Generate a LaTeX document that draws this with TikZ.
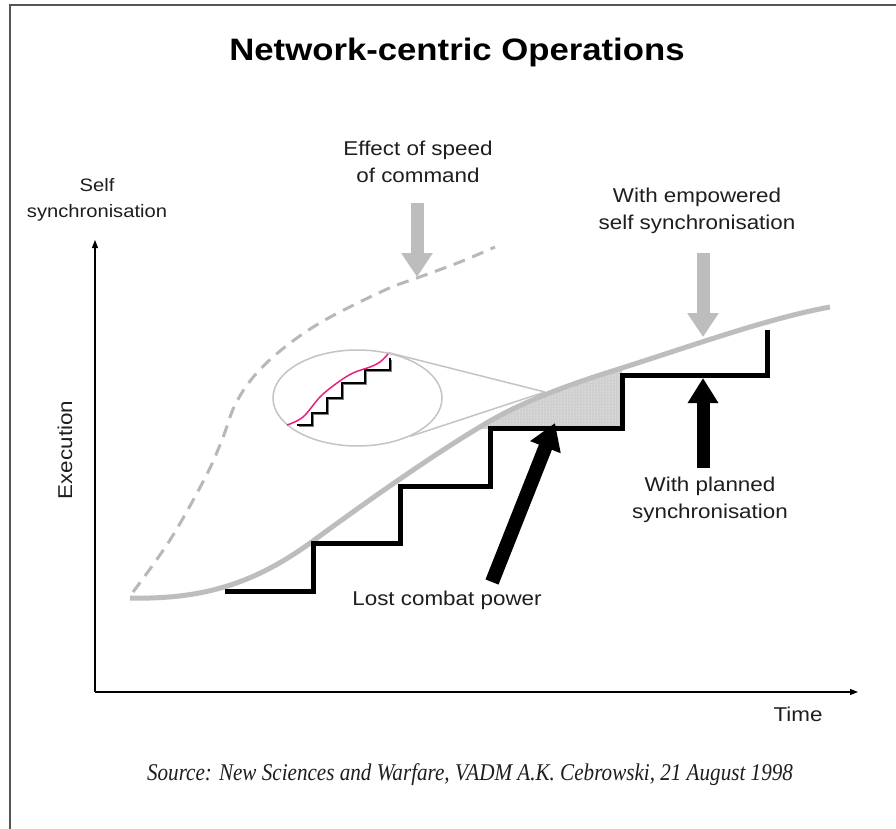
\documentclass[tikz,border=0pt]{standalone}
\usepackage{fontspec}
\setmainfont[FakeStretch=1.12]{Liberation Sans}
\newfontfamily\srcfont[FakeStretch=0.88]{Liberation Serif}
\usetikzlibrary{arrows.meta,shapes.geometric,patterns}
\definecolor{curvegray}{HTML}{BDBDBD}
\definecolor{dashgray}{HTML}{B8B8B8}
\definecolor{lensgray}{HTML}{C4C4C4}
\definecolor{shadegray}{HTML}{CFCFCF}
\definecolor{pinkc}{HTML}{E8207E}
\definecolor{framec}{HTML}{555555}
\definecolor{txt}{HTML}{1E1E1E}
\newcommand\grcurvepath{(130,598) .. controls (212,600) and (262,578) .. (313,541) .. controls (370,499) and (440,450) .. (490,421) .. controls (530,398) and (580,381) .. (622,368) .. controls (700,343) and (770,318) .. (830,307)}
\tikzset{
  lbl/.style={text=txt, align=center, inner sep=0pt, font=\fontsize{20}{27}\selectfont},
  axlbl/.style={text=txt, align=center, inner sep=0pt, font=\fontsize{18}{26}\selectfont},
  axisline/.style={draw=black, line width=1.2pt, -{Triangle[length=8pt,width=6pt]}},
  grayarrow/.style={draw=curvegray, line width=13pt, -{Triangle[length=24pt,width=30pt]}},
  blackarrow/.style={draw=black, line width=13pt, -{Triangle[length=25pt,width=29pt]}},
  stairline/.style={draw=black, line width=5pt, line join=miter},
  curveline/.style={draw=curvegray, line width=5pt},
}
\begin{document}
\begin{tikzpicture}[x=1pt,y=-1pt]
\useasboundingbox (0,0) rectangle (896,829);
\fill[white] (0,0) rectangle (896,829);
% frame
\draw[framec, line width=1.2pt] (10,829) -- (10,5) -- (896,5);
% title
\node[text=black, inner sep=0pt, font=\bfseries\fontsize{31}{36}\selectfont] (title) at (457,52) {Network-centric Operations};
% axes
\coordinate (origin) at (95,692);
\coordinate (ytip) at (95,240);
\coordinate (xtip) at (858,692);
\draw[axisline] (origin) -- (ytip);
\draw[axisline] (origin) -- (xtip);
\node[axlbl] (selfl) at (97,200) {Self\\synchronisation};
\node[axlbl, font=\fontsize{20}{26}\selectfont, rotate=90] (execl) at (65,450) {Execution};
\node[axlbl, font=\fontsize{20}{26}\selectfont] (timel) at (798,714) {Time};
% shaded lost region
\begin{scope}
  \clip (470,428) rectangle (622,300);
  \fill[shadegray] \grcurvepath -- (830,700) -- (130,700) -- cycle;
  \fill[pattern=dots, pattern color=white] \grcurvepath -- (830,700) -- (130,700) -- cycle;
\end{scope}
% dashed curve
\draw[dashgray, line width=3pt, dash pattern=on 12pt off 8pt] plot[smooth, tension=0.6] coordinates {(133,592) (170,540) (205,478) (222,440) (235,405) (255,375) (285,347) (325,320) (385,290) (417,278) (460,262) (495,247)};
% magnifier
\node[ellipse, draw=lensgray, line width=1.5pt, minimum width=169pt, minimum height=96pt, inner sep=0pt] (mag) at (357.5,398) {};
\coordinate (focus) at (545,392);
\draw[lensgray, line width=1.5pt] (mag.56) -- (focus);
\draw[lensgray, line width=1.5pt] (mag.-36) -- (focus);
% mini stairs inside lens
\draw[gray, line width=1.5pt, shift={(1.5,1.5)}] (297,425) -- (312,425) -- (312,413) -- (327,413) -- (327,398) -- (342,398) -- (342,383) -- (365,383) -- (365,370) -- (390,370) -- (390,358);
\draw[black, line width=1.3pt] (297,425) -- (312,425) -- (312,413) -- (327,413) -- (327,398) -- (342,398) -- (342,383) -- (365,383) -- (365,370) -- (390,370) -- (390,358);
\draw[pinkc, line width=1.5pt] plot[smooth, tension=0.6] coordinates {(287,425) (303,417) (320,397) (337,383) (353,373) (370,367) (380,362) (388,354)};
% main gray curve
\draw[curveline] \grcurvepath;
% staircase
\draw[stairline] (225,591) -- (313,591) -- (313,543) -- (400,543) -- (400,486) -- (490,486) -- (490,428) -- (622,428) -- (622,375) -- (767,375) -- (767,330);
% labels and arrows
\node[lbl] (effect) at (418,161.5) {Effect of speed\\of command};
\coordinate (effS) at (417,203);
\coordinate (effT) at (417,277);
\draw[grayarrow] (effS) -- (effT);
\node[lbl] (empow) at (697,211) {With empowered\\self synchronisation};
\coordinate (empS) at (703,253);
\coordinate (empT) at (703,337);
\draw[grayarrow] (empS) -- (empT);
\node[lbl] (planned) at (710,500) {With planned\\synchronisation};
\coordinate (plS) at (703,468);
\coordinate (plT) at (703,378);
\draw[blackarrow] (plS) -- (plT);
\node[lbl] (lost) at (447,600) {Lost combat power};
\coordinate (lostS) at (492,582);
\coordinate (lostT) at (555,423);
\draw[blackarrow, line width=14pt, -{Triangle[length=26pt,width=31pt]}] (lostS) -- (lostT);
% source
\node[text=txt, inner sep=0pt, font=\srcfont\itshape\fontsize{24}{28}\selectfont] (source) at (470,775) {Source: New Sciences and Warfare, VADM A.K. Cebrowski, 21 August 1998};
\end{tikzpicture}
\end{document}
